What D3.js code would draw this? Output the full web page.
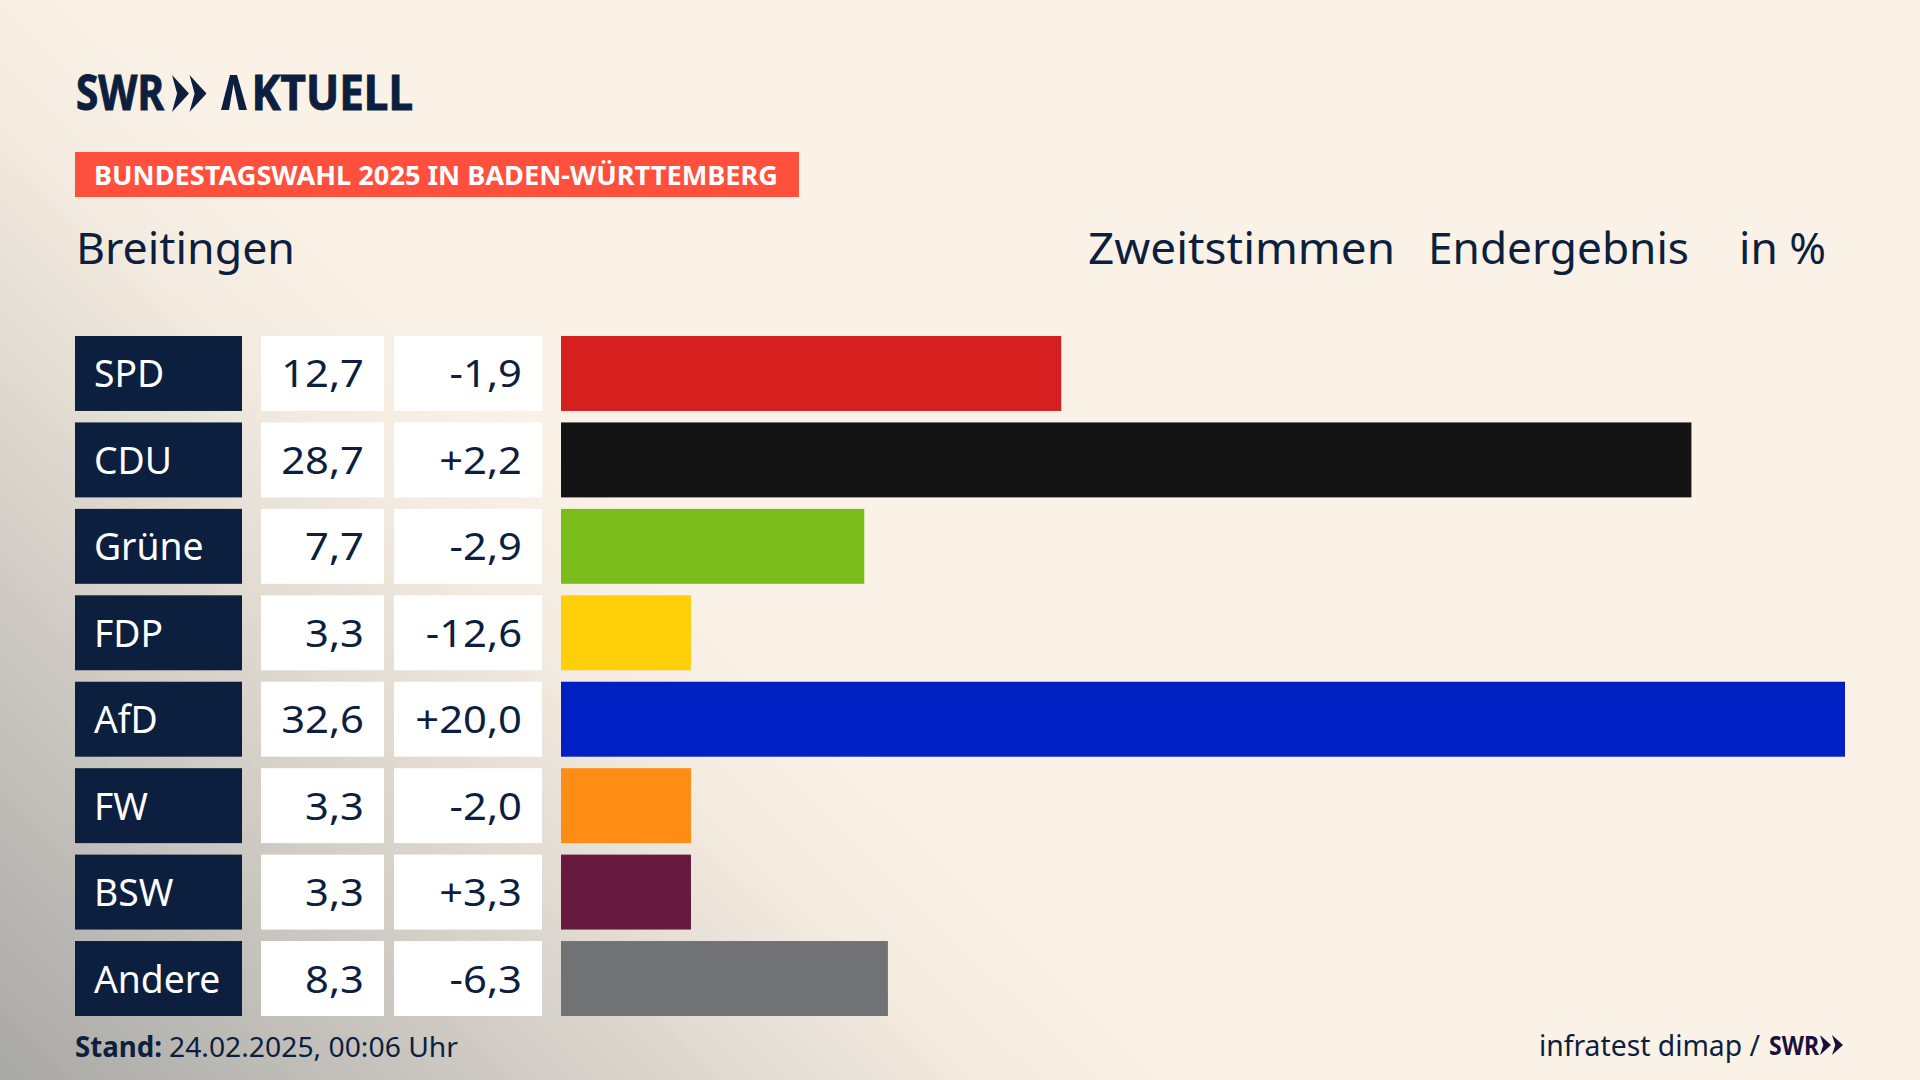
<!DOCTYPE html>
<html>
<head>
<meta charset="utf-8">
<script src="https://cdn.jsdelivr.net/npm/d3@7"></script>
<style>
  html, body { margin: 0; padding: 0; background: #faf2e6; }
  svg { display: block; }
  text { font-family: "Noto Sans", sans-serif; }
</style>
</head>
<body>
<svg id="chart" width="1920" height="1080"></svg>
<script>
const parties = ["SPD", "CDU", "Grüne", "FDP", "AfD", "FW", "BSW", "Andere"];
const shares = [12.7, 28.7, 7.7, 3.3, 32.6, 3.3, 3.3, 8.3];
const changes = [-1.9, 2.2, -2.9, -12.6, 20.0, -2.0, 3.3, -6.3];
const partyColors = ["#d61f1f", "#141414", "#7abd1b", "#ffcf0a", "#0020c4", "#ff8c14", "#671a3d", "#717274"];

const navy = "#0c1f3f";
const svg = d3.select("#chart");

// background, a diagonal shade out of the lower left corner
const defs = svg.append("defs");
const shade = defs.append("linearGradient")
  .attr("id", "shade")
  .attr("gradientUnits", "userSpaceOnUse")
  .attr("x1", 590).attr("y1", 478)
  .attr("x2", 0).attr("y2", 1080);
shade.append("stop").attr("offset", 0).attr("stop-color", "#faf2e6");
shade.append("stop").attr("offset", 0.18).attr("stop-color", "#f3ebe0");
shade.append("stop").attr("offset", 0.5).attr("stop-color", "#d6d1c9");
shade.append("stop").attr("offset", 1).attr("stop-color", "#a8a8a6");
svg.append("rect").attr("width", 1920).attr("height", 1080).attr("fill", "url(#shade)");

function label(parent, x, y, str, size, opts = {}) {
  const t = parent.append("text")
    .attr("x", x).attr("y", y)
    .attr("font-size", size)
    .attr("font-weight", opts.weight || 400)
    .attr("fill", opts.fill || navy)
    .attr("text-anchor", opts.anchor || "start")
    .text(str);
  if (opts.heavy) t.attr("stroke", opts.fill || navy).attr("stroke-width", opts.heavy);
  // the original font has other widths than ours
  const w = opts.width || t.node().getComputedTextLength() * (opts.stretch || 1);
  t.attr("textLength", w).attr("lengthAdjust", "spacingAndGlyphs");
  return t;
}

function chevrons(parent, x, top, w, h, gap, fill) {
  const shape = d3.line();
  [0, w + gap].forEach(dx => {
    parent.append("path")
      .attr("fill", fill)
      .attr("d", shape([
        [x + dx, top], [x + dx + w, top + h / 2], [x + dx, top + h], [x + dx + w * 0.3, top + h / 2]
      ]) + "Z");
  });
}

// header
label(svg, 76, 110, "SWR", 49, { weight: 700, width: 88, heavy: 1 });
chevrons(svg, 172, 75, 17, 37, 0.5, navy);

// the logo's A has no crossbar: text stays, its first letter is drawn over
const aktuell = label(svg, 221, 110, "", 49, { weight: 700, width: 192, heavy: 1 });
aktuell.append("tspan").attr("fill-opacity", 0).attr("stroke-opacity", 0).text("A");
aktuell.append("tspan").text("KTUELL");
aktuell.attr("textLength", 192);
svg.append("path").attr("fill", navy)
  .attr("d", d3.line()([[221, 110], [230, 75], [237, 75], [247, 110], [239, 110], [233.5, 84], [229, 110]]) + "Z");

svg.append("rect").attr("x", 75).attr("y", 152).attr("width", 724).attr("height", 45).attr("fill", "#ff4f3d");
label(svg, 94, 185, "BUNDESTAGSWAHL 2025 IN BADEN-WÜRTTEMBERG", 27, { weight: 700, fill: "#fff", width: 684 });

label(svg, 76, 264, "Breitingen", 44, { width: 219 });
label(svg, 1088, 264, "Zweitstimmen", 44, { width: 307 });
label(svg, 1428, 264, "Endergebnis", 44, { width: 261 });
label(svg, 1739, 264, "in %", 44, { width: 87 });

// rows
const y = d3.scaleBand()
  .domain(parties)
  .range([336, 1016])
  .paddingInner(0.1328)
  .paddingOuter(0);

const x = d3.scaleLinear().domain([0, 32.6]).range([561, 1845]);

const german = d3.formatLocale({ decimal: ",", thousands: ".", grouping: [3], currency: ["", " €"], minus: "-" });
const fmtShare = german.format(".1f");
const fmtChange = german.format("+.1f");

const rows = svg.append("g").selectAll("g")
  .data(parties)
  .join("g")
  .attr("transform", d => `translate(0,${y(d)})`);

const h = y.bandwidth();

rows.append("rect").attr("x", 75).attr("width", 167).attr("height", h).attr("fill", navy);
rows.append("rect").attr("x", 261).attr("width", 123).attr("height", h).attr("fill", "#fff");
rows.append("rect").attr("x", 394).attr("width", 148).attr("height", h).attr("fill", "#fff");

rows.append("rect")
  .attr("x", x(0))
  .attr("height", h)
  .attr("width", (d, i) => x(shares[i]) - x(0))
  .attr("fill", (d, i) => partyColors[i]);

rows.each(function (d, i) {
  const row = d3.select(this);
  const base = h / 2 + 14;
  label(row, 94, base, d, 38, { fill: "#fff", stretch: 0.98 });
  label(row, 364, base, fmtShare(shares[i]), 39, { anchor: "end", stretch: 1.07 });
  label(row, 522, base, fmtChange(changes[i]), 39, { anchor: "end", stretch: 1.07 });
});

// footer
label(svg, 75, 1057, "Stand:", 28, { weight: 700, width: 87 });
label(svg, 169, 1057, "24.02.2025, 00:06 Uhr", 28, { width: 289 });
label(svg, 1539, 1056, "infratest dimap /", 29, { width: 221 });
label(svg, 1769, 1055, "SWR", 27, { weight: 700, fill: "#1d0f3c", width: 50 });
chevrons(svg, 1820, 1035, 11, 20, 1, "#1d0f3c");
</script>
</body>
</html>
